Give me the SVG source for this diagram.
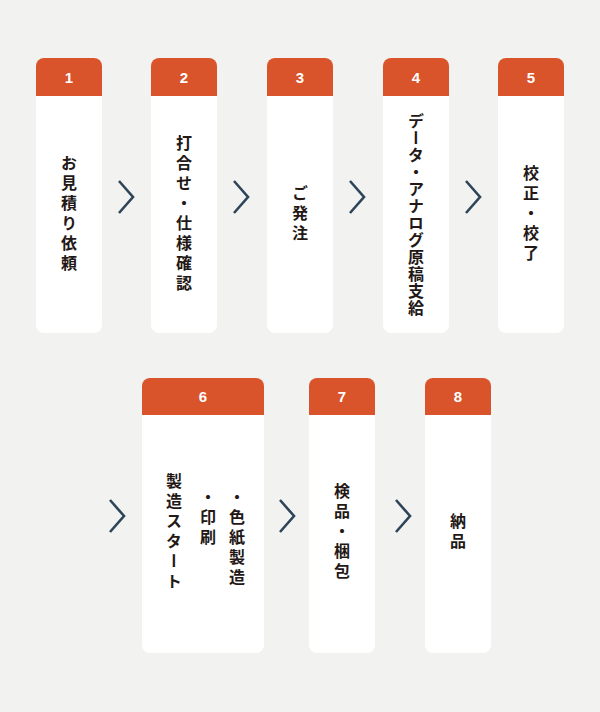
<svg xmlns="http://www.w3.org/2000/svg" width="600" height="712" viewBox="0 0 600 712">
<style>
.card{fill:#fff}
.hd{fill:#d9532b}
.num{fill:#fff;font-family:"Liberation Sans",sans-serif;font-weight:bold;font-size:15px;text-anchor:middle}
.t{fill:#231815;font-family:"Noto Sans CJK JP",sans-serif;font-weight:bold;font-size:16px;writing-mode:vertical-rl;letter-spacing:4px}
.m{text-anchor:middle}
.ch{fill:none;stroke:#2d4459;stroke-width:2.6}
</style>
<defs>
<path id="chev" class="ch" d="M-7,-16 L7,0 L-7,16"/>
</defs>
<rect width="600" height="712" fill="#f2f2f0"/>
<g id="n1"><rect class="card" x="36" y="58" width="66" height="275" rx="8"/><path class="hd" d="M36,96 V66 a8,8 0 0 1 8,-8 H94 a8,8 0 0 1 8,8 V96 Z"/><text class="num" x="69" y="83">1</text><text class="t m" x="69" y="215">お見積り依頼</text></g>
<g id="n2"><rect class="card" x="151" y="58" width="66" height="275" rx="8"/><path class="hd" d="M151,96 V66 a8,8 0 0 1 8,-8 H209 a8,8 0 0 1 8,8 V96 Z"/><text class="num" x="184" y="83">2</text><text class="t m" x="184" y="215">打合せ・仕様確認</text></g>
<g id="n3"><rect class="card" x="267" y="58" width="66" height="275" rx="8"/><path class="hd" d="M267,96 V66 a8,8 0 0 1 8,-8 H325 a8,8 0 0 1 8,8 V96 Z"/><text class="num" x="300" y="83">3</text><text class="t m" x="300" y="215">ご発注</text></g>
<g id="n4"><rect class="card" x="383" y="58" width="66" height="275" rx="8"/><path class="hd" d="M383,96 V66 a8,8 0 0 1 8,-8 H441 a8,8 0 0 1 8,8 V96 Z"/><text class="num" x="416" y="83">4</text><text class="t m" x="416" y="215" style="letter-spacing:1px">データ・アナログ原稿支給</text></g>
<g id="n5"><rect class="card" x="498" y="58" width="66" height="275" rx="8"/><path class="hd" d="M498,96 V66 a8,8 0 0 1 8,-8 H556 a8,8 0 0 1 8,8 V96 Z"/><text class="num" x="531" y="83">5</text><text class="t m" x="531" y="215">校正・校了</text></g>
<g id="n6"><rect class="card" x="142" y="378" width="122" height="275" rx="8"/><path class="hd" d="M142,415 V386 a8,8 0 0 1 8,-8 H256 a8,8 0 0 1 8,8 V415 Z"/><text class="num" x="203" y="402">6</text><text class="t m" x="174" y="533">製造スタート</text><text class="t" x="208" y="489">・印刷</text><text class="t" x="237" y="489">・色紙製造</text></g>
<g id="n7"><rect class="card" x="309" y="378" width="66" height="275" rx="8"/><path class="hd" d="M309,415 V386 a8,8 0 0 1 8,-8 H367 a8,8 0 0 1 8,8 V415 Z"/><text class="num" x="342" y="402">7</text><text class="t m" x="342" y="533">検品・梱包</text></g>
<g id="n8"><rect class="card" x="425" y="378" width="66" height="275" rx="8"/><path class="hd" d="M425,415 V386 a8,8 0 0 1 8,-8 H483 a8,8 0 0 1 8,8 V415 Z"/><text class="num" x="458" y="402">8</text><text class="t m" x="458" y="533">納品</text></g>
<g id="connectors">
<use href="#chev" x="126" y="197"/>
<use href="#chev" x="241" y="197"/>
<use href="#chev" x="357" y="197"/>
<use href="#chev" x="473" y="197"/>
<use href="#chev" x="117" y="516"/>
<use href="#chev" x="287" y="516"/>
<use href="#chev" x="403" y="516"/>
</g>
</svg>
